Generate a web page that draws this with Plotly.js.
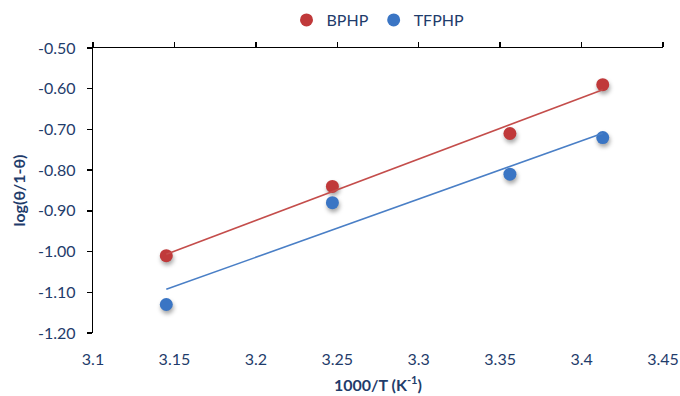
<!DOCTYPE html>
<html>
<head>
<meta charset="utf-8">
<script src="https://cdn.plot.ly/plotly-3.0.1.min.js"></script>
<style>
html,body{margin:0;padding:0;background:#fff;}
#chart{width:680px;height:396px;}
.scatterlayer .points path{filter:drop-shadow(1px 3px 2px rgba(0,0,0,0.35));}
</style>
</head>
<body>
<div id="chart"></div>
<script>
// 1000/T values (K^-1)
const invT = [3.145, 3.247, 3.356, 3.413];
const bphp = [-1.01, -0.84, -0.71, -0.59];
const tfphp = [-1.13, -0.88, -0.81, -0.72];
const seriesNames = ['BPHP', 'TFPHP'];
const xTickVals = [3.1, 3.15, 3.2, 3.25, 3.3, 3.35, 3.4, 3.45];
const xTickText = ['3.1', '3.15', '3.2', '3.25', '3.3', '3.35', '3.4', '3.45'];
const yTickVals = [-1.2, -1.1, -1.0, -0.9, -0.8, -0.7, -0.6, -0.5];
const yTickText = ['-1.20', '-1.10', '-1.00', '-0.90', '-0.80', '-0.70', '-0.60', '-0.50'];

function linFit(x, y) {
  const n = x.length;
  const mx = x.reduce((a, b) => a + b, 0) / n;
  const my = y.reduce((a, b) => a + b, 0) / n;
  let sxy = 0, sxx = 0;
  for (let i = 0; i < n; i++) { sxy += (x[i] - mx) * (y[i] - my); sxx += (x[i] - mx) ** 2; }
  const m = sxy / sxx, b = my - m * mx;
  const xs = [Math.min(...x), Math.max(...x)];
  return { x: xs, y: xs.map(v => m * v + b) };
}

const red = '#C0393A', blue = '#3A75C4';
const redLine = '#C44D4B', blueLine = '#4A7FC6';
const fb = linFit(invT, bphp), ft = linFit(invT, tfphp);
const txt = '#1F3C6B';
const font = 'Lato, "Open Sans", sans-serif';

const traces = [
  { x: fb.x, y: fb.y, xaxis: 'x2', mode: 'lines', line: { color: redLine, width: 1.6 }, showlegend: false, hoverinfo: 'skip' },
  { x: ft.x, y: ft.y, xaxis: 'x2', mode: 'lines', line: { color: blueLine, width: 1.6 }, showlegend: false, hoverinfo: 'skip' },
  { x: invT, y: bphp, name: seriesNames[0], mode: 'markers', marker: { color: red, size: 13 } },
  { x: invT, y: tfphp, name: seriesNames[1], mode: 'markers', marker: { color: blue, size: 13 } }
];

const layout = {
  width: 680, height: 396,
  margin: { l: 93, r: 17, t: 48, b: 63, autoexpand: false },
  paper_bgcolor: '#fff', plot_bgcolor: '#fff',
  font: { family: font, color: txt, size: 16 },
  showlegend: true,
  legend: { orientation: 'h', x: 0.5, xanchor: 'center', y: 1.098, yanchor: 'middle', yref: 'paper',
            bgcolor: 'rgba(0,0,0,0)', font: { family: font, size: 16, color: txt }, itemwidth: 30 },
  xaxis: {
    range: [3.1, 3.45], tickvals: xTickVals, ticktext: xTickText,
    showline: false, showgrid: false, zeroline: false, ticks: '',
    ticklabelstandoff: 15, automargin: false,
    tickfont: { family: font, size: 16, color: txt },
    title: { text: '<b>1000/T (K<sup>-1</sup>)</b>', font: { family: font, size: 16, color: txt }, standoff: 12 }
  },
  xaxis2: {
    range: [3.1, 3.45], tickvals: xTickVals, overlaying: 'x', side: 'top', anchor: 'y',
    showline: true, linecolor: '#000', linewidth: 1.3, ticks: 'outside', ticklen: 5, tickcolor: '#000', tickwidth: 1.3,
    showticklabels: false, showgrid: false, zeroline: false, automargin: false
  },
  yaxis: {
    range: [-1.2, -0.5], tickvals: yTickVals, ticktext: yTickText,
    showline: true, linecolor: '#000', linewidth: 1.3, ticks: 'outside', ticklen: 5, tickcolor: '#000', tickwidth: 1.3,
    showgrid: false, zeroline: false, automargin: false,
    ticklabelstandoff: 8,
    tickfont: { family: font, size: 16, color: txt },
    title: { text: '<b>log(θ/1-θ)</b>', font: { family: font, size: 16, color: txt }, standoff: 8 }
  }
};

Plotly.newPlot('chart', traces, layout, { displayModeBar: false, staticPlot: true });
</script>
</body>
</html>
